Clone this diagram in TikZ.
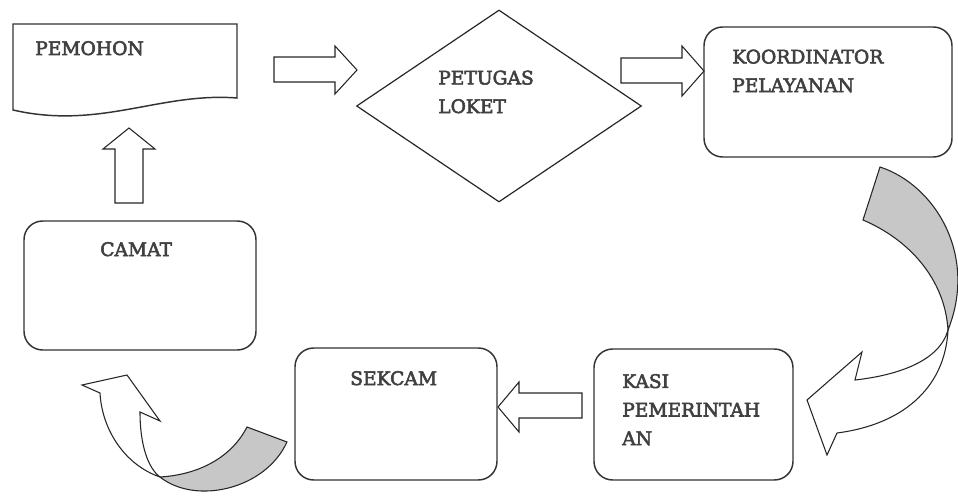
\documentclass[tikz,border=0pt]{standalone}
\usepackage{fontspec}
\setmainfont{DejaVu Serif}
\newfontfamily\lblfont{DejaVu Serif}[FakeBold=3]
\usetikzlibrary{fit,shapes.geometric}
\tikzset{
	box/.style={draw=black!80, line width=1.1pt, rounded corners=14pt, inner sep=0pt},
	lbl/.style={anchor=base west, inner sep=0pt, align=left, text=black!75, font=\lblfont\fontsize{14}{21.4}\selectfont},
	blk/.style={draw=black!85, line width=0.8pt, fill=white},
	back/.style={draw=black!85, line width=0.8pt, fill=black!22}
}
\begin{document}
\begin{tikzpicture}[x=0.75pt, y=-0.75pt]
	\useasboundingbox (0,0) rectangle (958,496);
	\draw[black!80, line width=1.1pt] (13,24) -- (237,24) -- (237,98) .. controls (160,92) and (100,130) .. (13,110) -- cycle;
	\coordinate (pemohon) at (125,67);
	\node[draw=black!85, line width=0.9pt, diamond, minimum width=213.75pt, minimum height=144pt, inner sep=0pt] (loket) at (499,106) {};
	\node[box, fit={(704,27) (952,157)}] (koord) {};
	\node[box, fit={(24,221) (256,350)}] (camat) {};
	\node[box, fit={(295,348) (497,480)}] (sekcam) {};
	\node[box, fit={(594,349) (793,480)}] (kasi) {};
	\node[lbl] (pemohonlbl) at (35,55) {PEMOHON};
	\node[lbl] (loketlbl) at (438,113) {PETUGAS\\LOKET};
	\node[lbl] (koordlbl) at (732,92) {KOORDINATOR\\PELAYANAN};
	\node[lbl] (camatlbl) at (100,256) {CAMAT};
	\node[lbl] (sekcamlbl) at (350,385) {SEKCAM};
	\node[lbl] (kasilbl) at (622,445) {KASI\\PEMERINTAH\\AN};
	% block arrows
	\draw[blk] (274,57) -- (335,57) -- (335,46) -- (357,70) -- (335,94) -- (335,82) -- (274,82) -- cycle;
	\draw[blk] (621,58) -- (682,58) -- (682,46) -- (704,71) -- (682,96) -- (682,83) -- (621,83) -- cycle;
	\draw[blk] (115,203) -- (115,149) -- (103,149) -- (129,128) -- (155,149) -- (143,149) -- (143,203) -- cycle;
	\draw[blk] (582,393) -- (519,393) -- (519,382) -- (498,407) -- (519,432) -- (519,418) -- (582,418) -- cycle;
	% curved arrows
	\draw[back] (880,167) .. controls (935,185) and (978,255) .. (948,330) .. controls (945,280) and (910,240) .. (863,220) -- cycle;
	\draw[blk] (948,330) .. controls (940,360) and (900,375) .. (855,380) -- (862,352) -- (807,400) -- (827,455) -- (837,433) .. controls (900,425) and (945,390) .. (948,330) -- cycle;
	\draw[back] (247,427) -- (287,442) .. controls (265,490) and (195,505) .. (160,477) .. controls (195,475) and (230,460) .. (247,427) -- cycle;
	\draw[blk] (160,477) .. controls (125,465) and (102,430) .. (100,393) -- (82,385) -- (127,375) -- (160,421) -- (140,412) .. controls (140,445) and (148,468) .. (160,477) -- cycle;
\end{tikzpicture}
\end{document}
